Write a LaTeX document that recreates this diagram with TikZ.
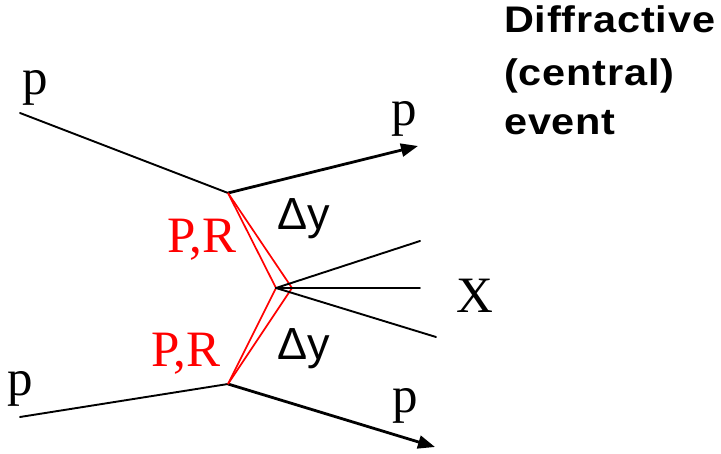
\documentclass[tikz,border=0pt]{standalone}
\usepackage{fontspec}
\usetikzlibrary{arrows.meta}
\newfontfamily\serifp{Liberation Serif}
\newfontfamily\sansf{Liberation Sans}
\newfontfamily\titlef[LetterSpace=2]{Liberation Sans}
\begin{document}
\begin{tikzpicture}[x=1pt,y=-1pt,
  thinline/.style={line width=1.9pt,line cap=round},
  thickline/.style={line width=2.8pt,-{Triangle[length=17pt,width=13pt]}},
  pomeron/.style={red,line width=1.7pt},
  serlabel/.style={inner sep=0pt,anchor=base west,font=\serifp\fontsize{51}{55}\selectfont},
  sanlabel/.style={inner sep=0pt,anchor=base west,font=\sansf\fontsize{45}{50}\selectfont},
  titlelabel/.style={inner sep=0pt,anchor=base west,font=\titlef\bfseries\fontsize{37}{40}\selectfont}]
\useasboundingbox (0,0) rectangle (721,454);
% vertices
\coordinate (v1) at (228,193);
\coordinate (v2) at (228,384);
\coordinate (cl) at (276,288);
\coordinate (cr) at (292,288);
\coordinate (inT) at (20,113);
\coordinate (outT) at (418,146);
\coordinate (inB) at (20,417);
\coordinate (outB) at (435,447);
\coordinate (x1) at (420,241);
\coordinate (x2) at (420,288);
\coordinate (x3) at (436,337);
% protons
\draw[thinline] (inT) -- (v1);
\draw[thickline] (v1) -- (outT);
\draw[thinline] (inB) -- (v2);
\draw[thickline] (v2) -- (outB);
% exchanges
\draw[pomeron,line join=miter] (v1) -- (cl) -- (v2);
\draw[pomeron,line join=miter] (v1) -- (cr) -- (v2);
% central system
\draw[thinline] (cl) -- (x1);
\draw[thinline] (cl) -- (x2);
\draw[thinline] (cl) -- (x3);
% labels
\node[serlabel] (pTL) at (22,95) {p};
\node[serlabel] (pTR) at (391,126) {p};
\node[serlabel] (pBL) at (7,396) {p};
\node[serlabel] (pBR) at (392,413) {p};
\node[serlabel,red] (prU) at (167,253) {P,R};
\node[serlabel,red] (prL) at (151,367) {P,R};
\node[serlabel] (X) at (456,313) {X};
\node[sanlabel] (dyU) at (277,230) {Δy};
\node[sanlabel] (dyL) at (277,360) {Δy};
\node[titlelabel] (t1) at (504,33) {\scalebox{1.12}[1]{Diffractive}};
\node[titlelabel] (t2) at (504,86) {\scalebox{1.12}[1]{(central)}};
\node[titlelabel] (t3) at (504,135) {\scalebox{1.12}[1]{event}};
\end{tikzpicture}
\end{document}
